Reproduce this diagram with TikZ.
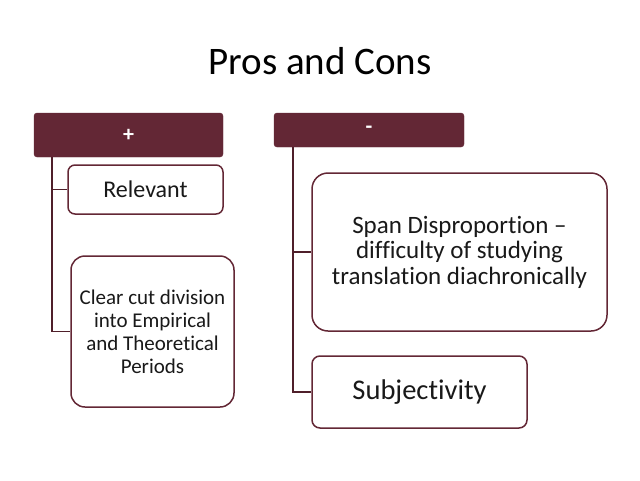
\documentclass[tikz,border=0pt]{standalone}
\usepackage{fontspec}
\setmainfont{Carlito}[Ligatures=NoCommon]
\usepackage{tikz}
\usetikzlibrary{positioning}
\definecolor{maroon}{RGB}{99,39,53}

\begin{document}
\begin{tikzpicture}[x=1pt, y=-1pt]
    \tikzset{
      head/.style={draw=maroon, fill=maroon, rounded corners=3pt, text=white, font=\fontsize{22}{24}\bfseries\selectfont},
      item/.style={draw=maroon, line width=1.5pt, fill=white, align=center, text=black!90},
      link/.style={draw=maroon!80!black, line width=1.5pt},
    }
    \useasboundingbox (0,0) rectangle (640,480);
    \node (title) at (320,61) {\fontsize{39}{44}\selectfont Pros and Cons};

    \node [head, minimum width=189pt, minimum height=44pt] (plus) at (128.5,135) {+};
    \node [head, minimum width=190pt, minimum height=34pt] (minus) at (369,130) {-};

    \node [item, rounded corners=7pt, minimum width=155pt, minimum height=49pt, font=\fontsize{24}{28}\selectfont] (relevant) at (145.5,189.5) {Relevant};
    \node [item, rounded corners=14pt, minimum width=163pt, minimum height=151pt, font=\fontsize{21}{23}\selectfont] (clearcut) at (152.5,331.5) {Clear cut division\\into Empirical\\and Theoretical\\Periods};
    \node [item, rounded corners=16pt, minimum width=295pt, minimum height=158pt, font=\fontsize{25}{25.5}\selectfont] (span) at (459.5,252) {Span Disproportion --\\difficulty of studying\\translation diachronically};
    \node [item, rounded corners=8pt, minimum width=215pt, minimum height=72pt, font=\fontsize{28.5}{32}\selectfont] (subj) at (419.5,392) {Subjectivity};

    \coordinate (ptrunk) at (52,157);
    \coordinate (mtrunk) at (293,147);
    \path[link] (ptrunk) |- (relevant) (ptrunk) |- (clearcut);
    \path[link] (mtrunk) |- (span) (mtrunk) |- (subj);

  \end{tikzpicture}
\end{document}
